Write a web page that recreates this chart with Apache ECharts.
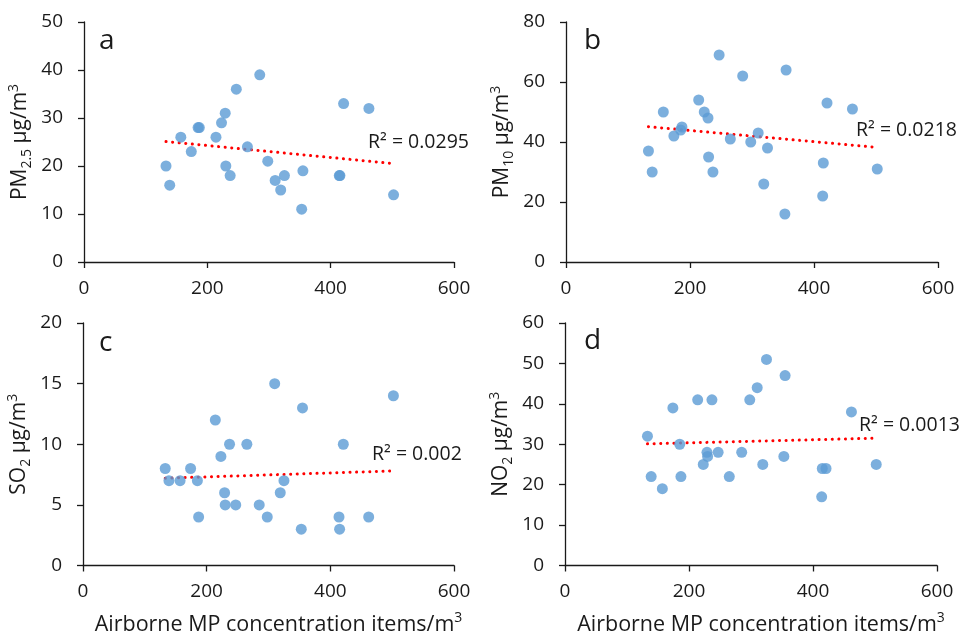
<!DOCTYPE html>
<html>
<head>
<meta charset="utf-8">
<script src="https://cdn.jsdelivr.net/npm/echarts@6/dist/echarts.min.js"></script>
<style>
  html, body { margin: 0; padding: 0; background: #fff; }
  #chart { width: 961px; height: 637px; }
</style>
</head>
<body>
<div id="chart"></div>
<script>
// airborne MP concentration (items/m3), shared by all four panels
const mpConc = [133, 139, 157, 174, 185, 187, 214, 223, 229, 230, 237, 247, 265, 285, 298, 310, 319, 325, 353, 355, 414, 415, 421, 462, 502]
const pm25 = [20, 16, 26, 23, 28, 28, 26, 29, 31, 20, 18, 36, 24, 39, 21, 17, 15, 18, 11, 19, 18, 18, 33, 32, 14]
const pm10 = [37, 30, 50, 42, 44, 45, 54, 50, 48, 35, 30, 69, 41, 62, 40, 43, 26, 38, 16, 64, 22, 33, 53, 51, 31]
const so2 = [8, 7, 7, 8, 7, 4, 12, 9, 6, 5, 10, 5, 10, 5, 4, 15, 6, 7, 3, 13, 4, 3, 10, 4, 14]
const no2 = [32, 22, 19, 39, 30, 22, 41, 25, 28, 27, 41, 28, 22, 28, 41, 44, 25, 51, 27, 47, 17, 24, 24, 38, 25]

// linear trendline end points
const trendX = [133, 502]
const trendPm25 = [25.1, 20.5]
const trendPm10 = [45.1, 38.2]
const trendSo2 = [7.2, 7.8]
const trendNo2 = [30.1, 31.5]

const r2Labels = ['R² = 0.0295', 'R² = 0.0218', 'R² = 0.002', 'R² = 0.0013']
const panelLetters = ['a', 'b', 'c', 'd']
const yNames = ['PM{sub|2.5} μg/m{sup|3}', 'PM{sub|10} μg/m{sup|3}', 'SO{sub|2} μg/m{sup|3}', 'NO{sub|2} μg/m{sup|3}']
const yMax = [50, 80, 20, 60]
const yStep = [10, 20, 5, 10]
const xMax = 600
const xStep = 200

const FONT = '"Open Sans", sans-serif'
const INK = '#1a1a1a'

const grids = [
  { left: 84, top: 22, width: 370, height: 240 },
  { left: 566, top: 22, width: 372, height: 240 },
  { left: 83, top: 323, width: 371, height: 243 },
  { left: 565, top: 323, width: 372, height: 243 },
]

const richNames = {
  sub: { fontSize: 14, fontFamily: FONT, color: INK, verticalAlign: 'bottom', lineHeight: 27 },
  sup: { fontSize: 14, fontFamily: FONT, color: INK, verticalAlign: 'top', lineHeight: 27 },
}

const ys = [pm25, pm10, so2, no2]
const trends = [trendPm25, trendPm10, trendSo2, trendNo2]

const axisLine = { show: true, lineStyle: { color: INK, width: 1.3 } }
const axisTick = { show: true, length: 6, inside: false, lineStyle: { color: INK, width: 1.3 } }

const xAxes = grids.map((g, i) => ({
  gridIndex: i,
  type: 'value',
  min: 0, max: xMax, interval: xStep,
  axisLine, axisTick,
  splitLine: { show: false },
  axisLabel: { color: INK, fontSize: 19, fontFamily: FONT, margin: 17 },
  name: i >= 2 ? 'Airborne MP concentration items/m{sup|3}' : '',
  nameLocation: 'middle',
  nameGap: 46,
  nameTextStyle: { color: INK, fontSize: 21.5, fontFamily: FONT, padding: [0, 0, 0, 20], rich: richNames },
}))

const yAxes = grids.map((g, i) => ({
  gridIndex: i,
  type: 'value',
  min: 0, max: yMax[i], interval: yStep[i],
  axisLine, axisTick,
  splitLine: { show: false },
  axisLabel: { color: INK, fontSize: 19, fontFamily: FONT, margin: 21 },
  name: yNames[i],
  nameLocation: 'middle',
  nameRotate: 90,
  nameGap: 50,
  nameTextStyle: { color: INK, fontSize: 21, fontFamily: FONT, rich: richNames },
}))

const series = []
ys.forEach((vals, i) => {
  series.push({
    type: 'scatter',
    xAxisIndex: i, yAxisIndex: i,
    data: mpConc.map((x, k) => [x, vals[k]]),
    symbolSize: 11,
    itemStyle: { color: '#5b9bd5' },
    z: 3,
  })
  series.push({
    type: 'line',
    xAxisIndex: i, yAxisIndex: i,
    data: trendX.map((x, k) => [x, trends[i][k]]),
    symbol: 'none',
    lineStyle: { color: '#ff0000', width: 3, type: [0.1, 6.5], cap: 'round' },
    z: 2,
    silent: true,
  })
})

const r2Pos = [[368, 142], [856, 130], [372, 454], [859, 425]]
const letterPos = [[99, 41], [584, 41], [99, 343], [584, 341]]

const graphic = []
panelLetters.forEach((t, i) => {
  graphic.push({
    type: 'text', x: letterPos[i][0], y: letterPos[i][1],
    style: { text: t, font: '28px ' + FONT, fill: INK, verticalAlign: 'middle' },
  })
  graphic.push({
    type: 'text', x: r2Pos[i][0], y: r2Pos[i][1],
    style: { text: r2Labels[i], font: '19.5px ' + FONT, fill: INK, verticalAlign: 'middle' },
  })
})

const chart = echarts.init(document.getElementById('chart'), null, { renderer: 'canvas' })
chart.setOption({
  animation: false,
  backgroundColor: '#fff',
  grid: grids,
  xAxis: xAxes,
  yAxis: yAxes,
  series,
  graphic,
})
</script>
</body>
</html>
